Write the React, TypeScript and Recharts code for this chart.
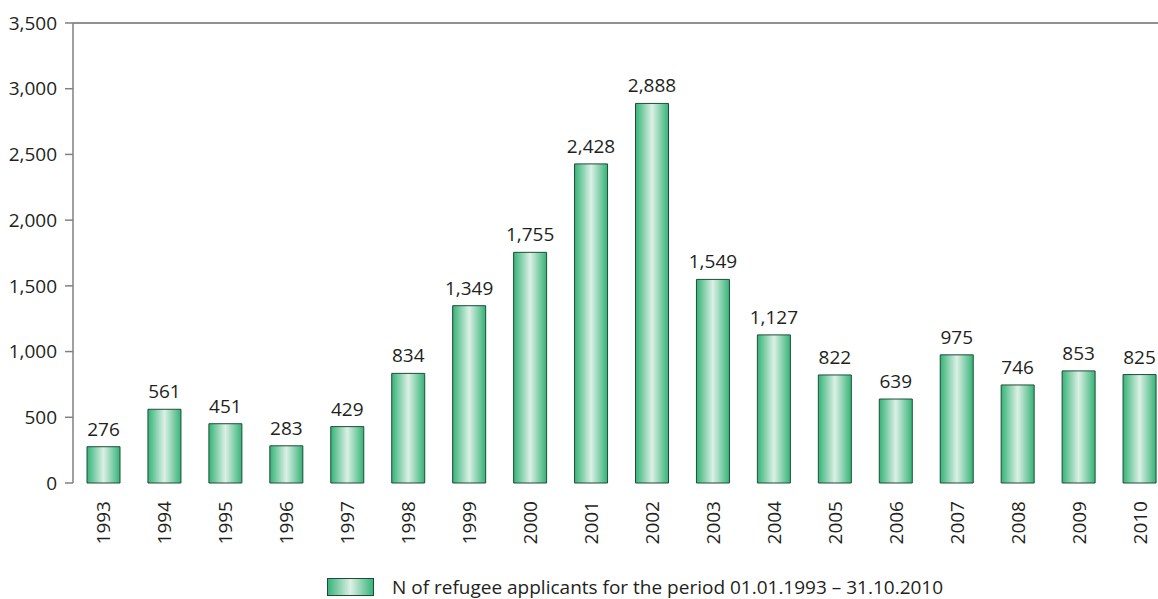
import React from 'react';
import { BarChart, Bar, XAxis, YAxis, LabelList, ReferenceLine, Legend } from 'recharts';

const years = ['1993', '1994', '1995', '1996', '1997', '1998', '1999', '2000', '2001', '2002', '2003', '2004', '2005', '2006', '2007', '2008', '2009', '2010'];
const applicants = [276, 561, 451, 283, 429, 834, 1349, 1755, 2428, 2888, 1549, 1127, 822, 639, 975, 746, 853, 825];
const yTicks = [0, 500, 1000, 1500, 2000, 2500, 3000, 3500];
const seriesName = 'N of refugee applicants for the period 01.01.1993 – 31.10.2010';

const chartData = years.map((year, i) => ({ year, value: applicants[i] }));
const boundaryTicks = years.map((_, i) => i).concat(years.length);

const FONT = '"Open Sans", "DejaVu Sans", sans-serif';
const TEXT = '#231f20';

const fmt = (v: number) => v.toLocaleString('en-US');

const YearTick = ({ x, y, payload }: any) => (
    <text
        transform={`translate(${x},${y + 10}) rotate(-90)`}
        textAnchor="end"
        dominantBaseline="central"
        fontSize={19}
        fontFamily={FONT}
        fill={TEXT}
    >
        {payload.value}
    </text>
);

const LegendContent = () => (
    <div style={{ display: 'flex', alignItems: 'center', fontFamily: FONT, fontSize: 19, lineHeight: '22px', color: TEXT, paddingLeft: 327 }}>
        <svg width={48} height={19} style={{ marginRight: 17 }}>
            <rect x={0.5} y={0.5} width={46} height={17} fill="url(#barGrad)" stroke="#1d4d36" />
        </svg>
        <span>{seriesName}</span>
    </div>
);

export default function App() {
    return (
        <div style={{ position: 'absolute', left: 0, top: 0, width: 1158, height: 599, overflow: 'hidden', background: '#fff' }}>
            <BarChart
                width={1175}
                height={599}
                data={chartData}
                margin={{ top: 23, right: 5, left: 0, bottom: 0 }}
            >
                <defs>
                    <linearGradient id="barGrad" x1="0" y1="0" x2="1" y2="0">
                        <stop offset="0%" stopColor="#35b377" />
                        <stop offset="50%" stopColor="#dcf0e6" />
                        <stop offset="100%" stopColor="#35b377" />
                    </linearGradient>
                </defs>
                <XAxis
                    xAxisId="grid"
                    type="number"
                    domain={[0, years.length]}
                    ticks={boundaryTicks}
                    tick={false}
                    tickSize={8}
                    height={0}
                    stroke="#333"
                    tickLine={{ stroke: '#555' }}
                />
                <XAxis
                    xAxisId="cat"
                    dataKey="year"
                    axisLine={false}
                    tickLine={false}
                    tick={<YearTick />}
                    interval={0}
                    height={116}
                />
                <YAxis
                    width={73}
                    domain={[0, 3500]}
                    ticks={yTicks}
                    tickFormatter={fmt}
                    tickSize={8}
                    tickMargin={8}
                    stroke="#808080"
                    strokeWidth={1.5}
                    tick={{ fontSize: 19, fontFamily: FONT, fill: TEXT }}
                />
                <ReferenceLine xAxisId="grid" y={3500} stroke="#222" strokeWidth={1.2} />
                <Bar
                    xAxisId="cat"
                    dataKey="value"
                    name={seriesName}
                    fill="url(#barGrad)"
                    stroke="#1d4d36"
                    strokeWidth={1}
                    barSize={33}
                    isAnimationActive={false}
                >
                    <LabelList
                        dataKey="value"
                        position="top"
                        offset={11}
                        formatter={(v: any) => fmt(Number(v))}
                        style={{ fontSize: 19, fontFamily: FONT, fill: TEXT }}
                    />
                </Bar>
                <Legend
                    layout="horizontal"
                    verticalAlign="middle"
                    align="center"
                    wrapperStyle={{ top: 576, left: 0, width: 1158 }}
                    content={<LegendContent />}
                />
            </BarChart>
        </div>
    );
}
